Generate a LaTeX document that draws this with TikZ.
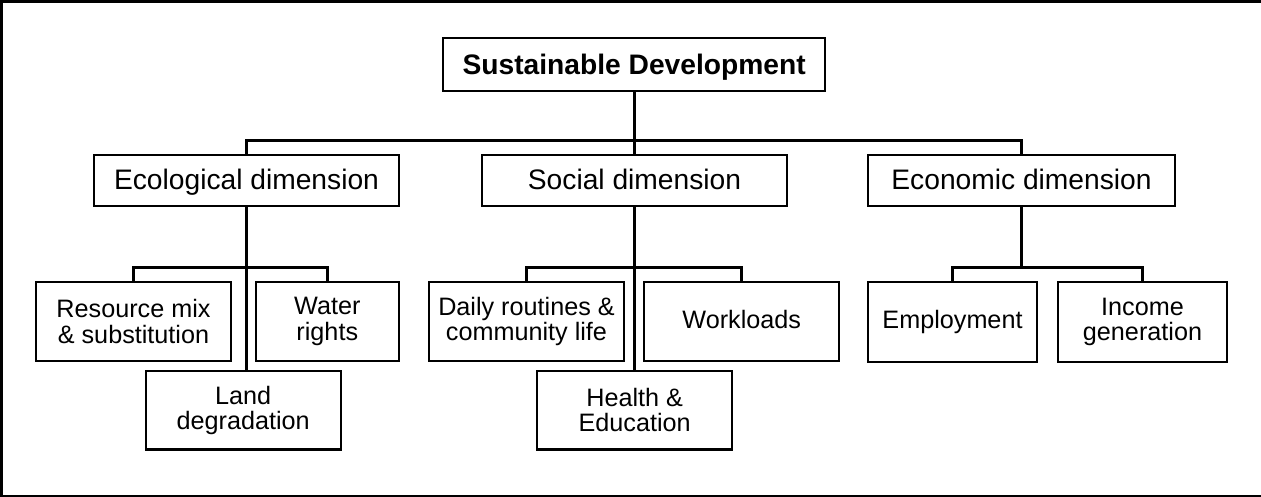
\documentclass[tikz,border=0pt]{standalone}
\usepackage{fontspec}
\setmainfont{Liberation Sans}
\begin{document}
\begin{tikzpicture}[x=1pt,y=-1pt,
  basebox/.style={draw=black, line width=2.2pt, inner sep=0pt, align=center, fill=white},
  titlebox/.style={basebox, minimum width=381.7pt, minimum height=52.7pt, text height=23pt, text depth=3pt, font=\bfseries\fontsize{28.2}{30}\selectfont},
  dimbox/.style={basebox, minimum height=51pt, text height=22.5pt, text depth=3.5pt, font=\fontsize{28.2}{30}\selectfont},
  subbox/.style={basebox, minimum height=79pt, font=\fontsize{25.2}{25.4}\selectfont},
  oneline/.style={text height=16pt, text depth=3pt},
  conn/.style={draw=black, line width=3pt, line join=miter}]
\useasboundingbox (0,0) rectangle (1261,497);
\draw[line width=2.5pt] (1265,1.5) -- (1.5,1.5) -- (1.5,496) -- (1265,496);

% nodes
\node[titlebox] (sd) at (634.2,64.7) {Sustainable Development};
\node[dimbox, minimum width=305pt] (eco) at (246.5,180.5) {Ecological dimension};
\node[dimbox, minimum width=305pt] (soc) at (634.5,180.5) {Social dimension};
\node[dimbox, minimum width=307pt] (econ) at (1021.5,180.5) {Economic dimension};

\node[subbox, minimum width=195pt] (res) at (133.5,321.5) {Resource mix\\\& substitution};
\node[subbox, minimum width=143.3pt] (wat) at (327.3,321.5) {Water\\rights};
\node[subbox, minimum width=195pt, minimum height=78.5pt] (land) at (243.2,410.2) {Land\\degradation};

\node[subbox, minimum width=195pt] (daily) at (526.5,321.5) {Daily routines \&\\community life};
\node[subbox, oneline, minimum width=195pt] (work) at (741.7,321.5) {Workloads};
\node[subbox, minimum width=195pt, minimum height=78.5pt] (health) at (634.7,410.2) {Health \&\\Education};

\node[subbox, oneline, minimum width=169pt, minimum height=80pt] (emp) at (952.5,322) {Employment};
\node[subbox, minimum width=169pt, minimum height=80pt] (inc) at (1142.5,322) {Income\\generation};

% bar levels
\coordinate (mainbar) at (634,141);
\coordinate (subbar) at (634,267.7);

% connectors
\draw[conn] (sd.south) -- (sd.south |- mainbar);
\draw[conn] (eco.north) -- (eco.north |- mainbar) -- (econ.north |- mainbar) -- (econ.north);
\draw[conn] (soc.north |- mainbar) -- (soc.north);

\draw[conn] (eco.south) -- (eco.south |- land.north);
\draw[conn] (res.north) -- (res.north |- subbar) -- (wat.north |- subbar) -- (wat.north);

\draw[conn] (soc.south) -- (soc.south |- health.north);
\draw[conn] (daily.north) -- (daily.north |- subbar) -- (work.north |- subbar) -- (work.north);

\draw[conn] (econ.south) -- (econ.south |- subbar);
\draw[conn] (emp.north) -- (emp.north |- subbar) -- (inc.north |- subbar) -- (inc.north);
\end{tikzpicture}
\end{document}
